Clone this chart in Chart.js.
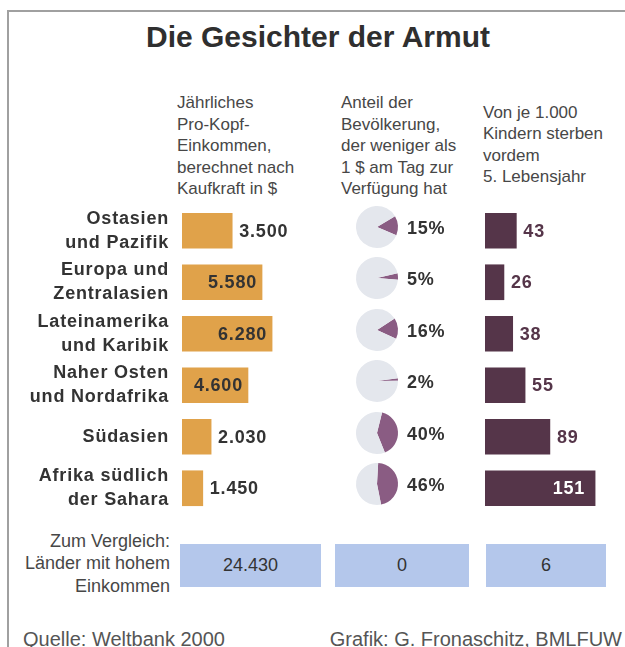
<!DOCTYPE html>
<html lang="de">
<head>
<meta charset="utf-8">
<title>Die Gesichter der Armut</title>
<script src="https://cdn.jsdelivr.net/npm/chart.js@4.4.1/dist/chart.umd.min.js"></script>
<style>
    body {
        margin: 0;
        width: 625px;
        height: 647px;
        overflow: hidden;
        position: relative;
        background: #fff;
        font-family: 'Liberation Sans', Arial, sans-serif;
        color: #444;
    }
    .frame {
        position: absolute;
        left: 7px;
        top: 10px;
        width: 640px;
        height: 660px;
        border-top: 2px solid #a0a0a0;
        border-left: 2px solid #a0a0a0;
    }
    h1 {
        position: absolute;
        left: 0;
        top: 22px;
        width: 636px;
        margin: 0;
        text-align: center;
        font-size: 30px;
        line-height: 30px;
        font-weight: bold;
        color: #2f2f2f;
    }
    .head {
        position: absolute;
        font-size: 17px;
        line-height: 21.5px;
        color: #474747;
    }
    .compare-label {
        position: absolute;
        left: 0;
        top: 529.5px;
        width: 170px;
        text-align: right;
        font-size: 18px;
        line-height: 22.5px;
        color: #474747;
    }
    .box {
        position: absolute;
        top: 544px;
        height: 43px;
        line-height: 43px;
        text-align: center;
        font-size: 18px;
        color: #333;
        background: #b4c7eb;
    }
    .foot {
        position: absolute;
        top: 629px;
        font-size: 20px;
        line-height: 20px;
        color: #555;
        white-space: nowrap;
    }
    canvas { position: absolute; }
</style>
</head>
<body>
<div class="frame"></div>
<h1>Die Gesichter der Armut</h1>

<div class="head" id="head1" style="left:177px; top:92.4px;"></div>
<div class="head" id="head2" style="left:341px; top:92.4px;"></div>
<div class="head" id="head3" style="left:483px; top:101.5px;"></div>

<canvas id="incomeChart" width="320" height="309" style="left:0; top:205px;"></canvas>
<div id="pies"></div>
<canvas id="deathChart" width="140" height="309" style="left:485px; top:205px;"></canvas>

<div class="compare-label" id="compareLabel"></div>
<div id="compareBoxes"></div>

<div class="foot" style="left:23px;">Quelle: Weltbank 2000</div>
<div class="foot" style="right:3px;">Grafik: G. Fronaschitz, BMLFUW</div>

<script>
// Daten
const regions = [
    ['Ostasien', 'und Pazifik'],
    ['Europa und', 'Zentralasien'],
    ['Lateinamerika', 'und Karibik'],
    ['Naher Osten', 'und Nordafrika'],
    'Südasien',
    ['Afrika südlich', 'der Sahara']
];
const income = [3500, 5580, 6280, 4600, 2030, 1450];        // $ pro Kopf
const povertyShare = [15, 5, 16, 2, 40, 46];                // % unter 1 $/Tag
const childDeaths = [43, 26, 38, 55, 89, 151];              // je 1.000 Kinder
const headers = [
    ['Jährliches', 'Pro-Kopf-', 'Einkommen,', 'berechnet nach', 'Kaufkraft in $'],
    ['Anteil der', 'Bevölkerung,', 'der weniger als', '1 $ am Tag zur', 'Verfügung hat'],
    ['Von je 1.000', 'Kindern sterben', 'vordem', '5. Lebensjahr']
];
const compareLabel = ['Zum Vergleich:', 'Länder mit hohem', 'Einkommen'];
const compareValues = [24430, 0, 6];

const FONT = "'Liberation Sans', Arial, sans-serif";
const ORANGE = '#e0a24a';
const PLUM = '#553549';
const PIE_PURPLE = '#8a5c83';
const PIE_GREY = '#e4e7ed';

// 3500 -> "3.500"
function fmt(v) {
    return String(v).replace(/\B(?=(\d{3})+(?!\d))/g, '.');
}

// Kopfzeilen und Vergleichszeile
headers.forEach((lines, i) => {
    document.getElementById('head' + (i + 1)).innerHTML = lines.join('<br>');
});
document.getElementById('compareLabel').innerHTML = compareLabel.join('<br>');

const boxPos = [[180, 141], [335, 134], [486, 120]];
const boxWrap = document.getElementById('compareBoxes');
compareValues.forEach((v, i) => {
    const el = document.createElement('div');
    el.className = 'box';
    el.style.left = boxPos[i][0] + 'px';
    el.style.width = boxPos[i][1] + 'px';
    el.textContent = fmt(v);
    boxWrap.appendChild(el);
});

// Werte an die Balken schreiben
const valueLabels = {
    id: 'valueLabels',
    afterDatasetsDraw(chart, args, opts) {
        const ctx = chart.ctx;
        const data = chart.data.datasets[0].data;
        ctx.save();
        ctx.font = 'bold 18px ' + FONT;
        ctx.letterSpacing = '0.8px';
        ctx.textBaseline = 'middle';
        chart.getDatasetMeta(0).data.forEach((bar, i) => {
            const v = data[i];
            if (v >= opts.insideFrom) {
                ctx.fillStyle = opts.insideColor;
                ctx.textAlign = 'right';
                ctx.fillText(fmt(v), bar.x - opts.insidePad, bar.y + 1);
            } else {
                ctx.fillStyle = opts.outsideColor;
                ctx.textAlign = 'left';
                ctx.fillText(fmt(v), bar.x + 7, bar.y + 1);
            }
        });
        ctx.restore();
    }
};

// etwas Sperrung für die fetten Regionsnamen
const spacing = {
    id: 'spacing',
    beforeDraw(chart) {
        chart.ctx.letterSpacing = '0.8px';
    }
};

// Einkommen
new Chart(document.getElementById('incomeChart'), {
    type: 'bar',
    data: {
        labels: regions,
        datasets: [{
            data: income,
            backgroundColor: ORANGE,
            borderWidth: 0,
            barThickness: 35
        }]
    },
    options: {
        indexAxis: 'y',
        responsive: false,
        animation: false,
        events: [],
        layout: { padding: 0 },
        plugins: {
            legend: { display: false },
            tooltip: { enabled: false },
            valueLabels: { insideFrom: 4000, insideColor: '#333', outsideColor: '#333', insidePad: 5 }
        },
        scales: {
            x: { display: false, min: 0, max: 9620 },
            y: {
                grid: { display: false, drawTicks: false },
                border: { display: false },
                ticks: {
                    color: '#333',
                    padding: 13,
                    font: { family: FONT, size: 18, weight: 'bold', lineHeight: 1.334 }
                },
                afterFit(scale) {
                    scale.width = 182;
                    scale.paddingTop = 0;
                    scale.paddingBottom = 0;
                }
            }
        }
    },
    plugins: [spacing, valueLabels]
});

// Kindersterblichkeit
new Chart(document.getElementById('deathChart'), {
    type: 'bar',
    data: {
        labels: regions,
        datasets: [{
            data: childDeaths,
            backgroundColor: PLUM,
            borderWidth: 0,
            barThickness: 35
        }]
    },
    options: {
        indexAxis: 'y',
        responsive: false,
        animation: false,
        events: [],
        layout: { padding: 0 },
        plugins: {
            legend: { display: false },
            tooltip: { enabled: false },
            valueLabels: { insideFrom: 100, insideColor: '#fff', outsideColor: PLUM, insidePad: 10 }
        },
        scales: {
            x: { display: false, min: 0, max: 192 },
            y: { display: false }
        }
    },
    plugins: [valueLabels]
});

// Prozentzahl neben dem Kuchen
const pctLabel = {
    id: 'pctLabel',
    afterDraw(chart) {
        const ctx = chart.ctx;
        const area = chart.chartArea;
        ctx.save();
        ctx.font = 'bold 18px ' + FONT;
        ctx.letterSpacing = '0.8px';
        ctx.fillStyle = '#333';
        ctx.textAlign = 'left';
        ctx.textBaseline = 'middle';
        ctx.fillText(chart.data.datasets[0].data[0] + '%', area.right + 9, (area.top + area.bottom) / 2 + 2);
        ctx.restore();
    }
};

// Armutsanteil als kleine Kuchen, je Zeile einer
const pieWrap = document.getElementById('pies');
const rowH = 309 / regions.length;
povertyShare.forEach((p, i) => {
    const c = document.createElement('canvas');
    c.width = 120;
    c.height = 50;
    c.style.left = '352px';
    c.style.top = (205 + rowH * (i + 0.5) - 4 - 25) + 'px';
    pieWrap.appendChild(c);
    new Chart(c, {
        type: 'pie',
        data: {
            labels: ['unter 1 $', 'Rest'],
            datasets: [{
                data: [p, 100 - p],
                backgroundColor: [PIE_PURPLE, PIE_GREY],
                borderWidth: 0,
                hoverOffset: 0,
                offset: 0
            }]
        },
        options: {
            responsive: false,
            animation: false,
            events: [],
            rotation: 86 - p * 1.8,
            layout: { padding: { left: 4, right: 74, top: 4, bottom: 4 } },
            plugins: {
                legend: { display: false },
                tooltip: { enabled: false }
            }
        },
        plugins: [pctLabel]
    });
});
</script>
</body>
</html>
